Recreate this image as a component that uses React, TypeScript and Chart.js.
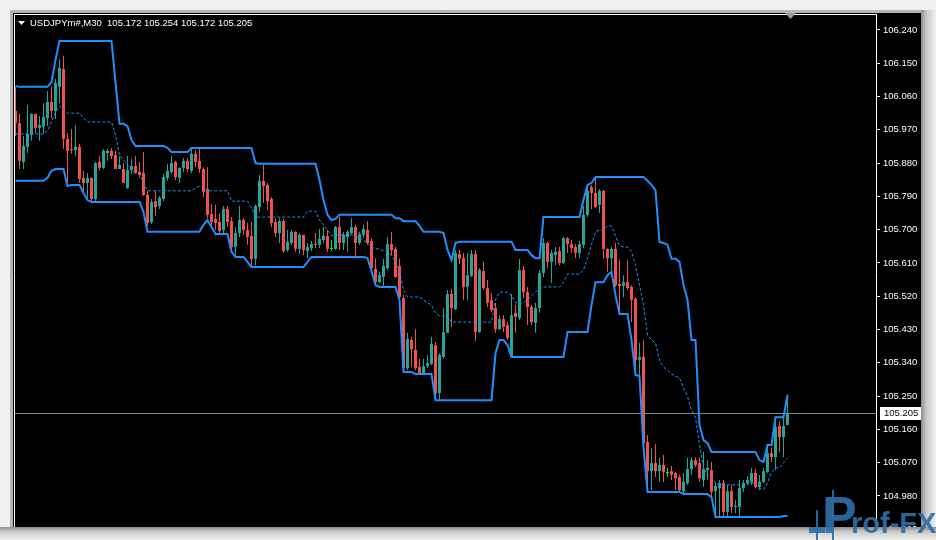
import React, { useEffect, useRef } from "react";
import { Chart, registerables } from "chart.js";

Chart.register(...registerables);

const SYMBOL = "USDJPYm#,M30";
const LAST_PRICE = 105.205;

const OPEN = [
  106.021,105.988,105.883,105.924,105.956,106.013,105.975,105.978,106.002,106.045,
  106.021,106.086,106.134,105.945,105.918,105.915,105.924,105.840,105.826,105.840,
  105.783,105.883,105.867,105.907,105.913,105.902,105.864,105.864,105.813,105.861,
  105.872,105.856,105.853,105.794,105.721,105.777,105.764,105.783,105.840,105.856,
  105.883,105.840,105.867,105.886,105.859,105.905,105.886,105.864,105.810,105.742,
  105.729,105.721,105.699,105.756,105.723,105.653,105.691,105.726,105.699,105.683,
  105.621,105.761,105.832,105.821,105.783,105.721,105.691,105.723,105.645,105.664,
  105.694,105.648,105.686,105.642,105.650,105.661,105.659,105.672,105.683,105.648,
  105.648,105.707,105.664,105.680,105.691,105.707,105.664,105.686,105.699,105.669,
  105.594,105.558,105.572,105.596,105.661,105.648,105.602,105.515,105.326,105.402,
  105.375,105.329,105.307,105.331,105.337,105.388,105.258,105.356,105.421,105.526,
  105.485,105.634,105.623,105.545,105.575,105.634,105.423,105.588,105.542,105.510,
  105.488,105.431,105.458,105.442,105.356,105.475,105.461,105.591,105.531,105.491,
  105.448,105.488,105.583,105.664,105.613,105.631,105.642,105.610,105.677,105.661,
  105.653,105.637,105.659,105.740,105.815,105.799,105.767,105.805,105.648,105.623,
  105.648,105.553,105.548,105.558,105.545,105.513,105.347,105.356,105.126,105.047,
  105.069,105.047,105.064,105.042,105.047,105.042,105.031,104.993,105.015,105.053,
  105.077,105.069,105.023,105.050,105.050,104.993,105.001,105.015,104.937,104.993,
  104.950,104.950,105.001,105.015,105.018,105.042,105.004,105.018,105.045,105.096,
  105.085,105.169,105.139,105.172,
];

const HIGH = [
  106.086,106.013,105.953,106.037,106.015,106.013,106.007,106.042,106.075,106.088,
  106.107,106.161,106.170,105.961,105.972,105.983,105.932,105.859,105.853,105.840,
  105.883,105.899,105.918,105.918,105.921,105.913,105.899,105.880,105.899,105.891,
  105.899,105.883,105.910,105.805,105.783,105.805,105.791,105.851,105.878,105.899,
  105.886,105.869,105.894,105.894,105.918,105.915,105.921,105.869,105.869,105.769,
  105.767,105.745,105.764,105.764,105.734,105.707,105.764,105.731,105.718,105.721,
  105.767,105.848,105.875,105.826,105.788,105.731,105.731,105.729,105.699,105.699,
  105.696,105.691,105.686,105.664,105.669,105.691,105.702,105.707,105.699,105.672,
  105.710,105.734,105.694,105.699,105.731,105.713,105.694,105.713,105.723,105.677,
  105.623,105.586,105.621,105.680,105.694,105.653,105.621,105.523,105.421,105.410,
  105.431,105.350,105.350,105.361,105.410,105.396,105.366,105.488,105.537,105.540,
  105.645,105.645,105.637,105.637,105.645,105.645,105.596,105.613,105.564,105.529,
  105.502,105.469,105.469,105.450,105.526,105.496,105.621,105.602,105.545,105.496,
  105.502,105.591,105.677,105.667,105.645,105.653,105.653,105.680,105.680,105.672,
  105.661,105.669,105.764,105.818,105.821,105.842,105.810,105.807,105.650,105.653,
  105.664,105.618,105.577,105.618,105.550,105.518,105.394,105.402,105.145,105.110,
  105.120,105.083,105.091,105.056,105.061,105.045,105.037,105.042,105.083,105.085,
  105.085,105.085,105.099,105.077,105.072,105.015,105.023,105.023,105.010,105.010,
  104.969,105.023,105.023,105.034,105.056,105.053,105.037,105.056,105.118,105.112,
  105.177,105.183,105.193,105.254,
];

const LOW = [
  105.953,105.864,105.864,105.907,105.940,105.961,105.940,105.961,105.980,106.002,
  105.999,106.042,105.918,105.818,105.905,105.899,105.826,105.799,105.783,105.772,
  105.777,105.859,105.864,105.886,105.891,105.864,105.864,105.826,105.810,105.851,
  105.851,105.840,105.791,105.710,105.715,105.737,105.756,105.777,105.832,105.851,
  105.834,105.826,105.856,105.856,105.853,105.869,105.853,105.788,105.731,105.707,
  105.699,105.686,105.691,105.707,105.637,105.629,105.680,105.686,105.659,105.596,
  105.604,105.748,105.772,105.753,105.707,105.680,105.664,105.637,105.640,105.659,
  105.640,105.634,105.631,105.623,105.642,105.650,105.650,105.664,105.640,105.642,
  105.645,105.645,105.645,105.640,105.686,105.626,105.659,105.677,105.659,105.583,
  105.550,105.556,105.545,105.591,105.631,105.569,105.515,105.320,105.320,105.329,
  105.320,105.307,105.307,105.326,105.334,105.239,105.239,105.350,105.421,105.437,
  105.483,105.607,105.510,105.510,105.572,105.399,105.421,105.537,105.491,105.477,
  105.421,105.429,105.423,105.402,105.356,105.421,105.456,105.515,105.442,105.442,
  105.421,105.475,105.572,105.596,105.556,105.604,105.604,105.607,105.637,105.637,
  105.623,105.623,105.650,105.734,105.756,105.759,105.745,105.621,105.586,105.572,
  105.545,105.475,105.518,105.537,105.450,105.320,105.302,105.112,104.996,104.996,
  105.031,105.018,105.018,105.031,105.023,104.996,104.991,104.988,105.010,105.037,
  105.058,105.018,105.004,105.023,104.977,104.923,104.923,104.923,104.923,104.934,
  104.934,104.923,104.991,105.010,105.010,105.001,104.996,105.015,105.042,105.072,
  105.050,105.099,105.085,105.172,
];

const CLOSE = [
  105.988,105.886,105.926,105.959,106.013,105.975,105.983,106.005,106.045,106.021,
  106.097,106.137,105.945,105.913,105.915,105.924,105.837,105.826,105.840,105.783,
  105.880,105.867,105.913,105.913,105.899,105.864,105.875,105.826,105.861,105.872,
  105.853,105.848,105.794,105.718,105.775,105.761,105.786,105.842,105.859,105.880,
  105.842,105.867,105.886,105.864,105.905,105.883,105.864,105.802,105.740,105.721,
  105.718,105.696,105.756,105.721,105.653,105.691,105.726,105.699,105.680,105.621,
  105.764,105.832,105.818,105.777,105.718,105.691,105.723,105.642,105.667,105.694,
  105.648,105.686,105.645,105.653,105.661,105.659,105.675,105.683,105.648,105.648,
  105.707,105.664,105.686,105.694,105.707,105.664,105.688,105.702,105.664,105.596,
  105.558,105.577,105.602,105.661,105.645,105.572,105.518,105.326,105.404,105.377,
  105.326,105.307,105.331,105.339,105.391,105.258,105.361,105.423,105.526,105.488,
  105.637,105.621,105.545,105.577,105.634,105.423,105.591,105.542,105.502,105.483,
  105.431,105.458,105.437,105.407,105.469,105.464,105.591,105.531,105.491,105.450,
  105.488,105.583,105.664,105.613,105.637,105.640,105.610,105.677,105.661,105.650,
  105.637,105.661,105.740,105.805,105.799,105.761,105.805,105.648,105.623,105.648,
  105.550,105.548,105.558,105.542,105.510,105.347,105.356,105.123,105.047,105.069,
  105.047,105.064,105.045,105.042,105.037,105.028,104.996,105.018,105.053,105.077,
  105.064,105.028,105.053,105.056,104.991,105.007,105.015,104.937,104.993,104.950,
  104.953,105.001,105.015,105.023,105.042,105.004,105.018,105.047,105.096,105.085,
  105.166,105.139,105.169,105.205,
];

const UPPER = [
  106.088,106.086,106.086,106.086,106.086,106.086,106.086,106.086,106.086,106.099,
  106.159,106.210,106.210,106.210,106.210,106.210,106.210,106.210,106.210,106.210,
  106.210,106.210,106.210,106.210,106.210,106.099,105.986,105.986,105.980,105.942,
  105.926,105.926,105.926,105.926,105.926,105.926,105.926,105.926,105.921,105.910,
  105.910,105.910,105.910,105.910,105.921,105.921,105.921,105.921,105.921,105.921,
  105.921,105.921,105.921,105.921,105.921,105.921,105.921,105.921,105.921,105.921,
  105.880,105.878,105.878,105.878,105.878,105.878,105.878,105.878,105.878,105.878,
  105.878,105.878,105.878,105.878,105.878,105.878,105.834,105.780,105.740,105.726,
  105.729,105.740,105.740,105.740,105.740,105.740,105.740,105.740,105.740,105.740,
  105.740,105.740,105.740,105.740,105.740,105.731,105.731,105.723,105.723,105.723,
  105.723,105.710,105.694,105.694,105.694,105.694,105.694,105.691,105.645,105.618,
  105.664,105.667,105.667,105.667,105.667,105.667,105.667,105.667,105.667,105.667,
  105.667,105.667,105.667,105.667,105.667,105.645,105.645,105.645,105.645,105.631,
  105.623,105.623,105.734,105.734,105.734,105.734,105.734,105.734,105.734,105.734,
  105.734,105.734,105.780,105.821,105.826,105.842,105.842,105.842,105.842,105.842,
  105.842,105.842,105.842,105.842,105.842,105.842,105.842,105.842,105.832,105.821,
  105.807,105.667,105.664,105.659,105.621,105.621,105.613,105.550,105.510,105.402,
  105.402,105.172,105.131,105.123,105.099,105.099,105.099,105.099,105.099,105.099,
  105.099,105.099,105.099,105.099,105.099,105.099,105.077,105.072,105.118,105.118,
  105.193,105.193,105.193,105.253,
];

const LOWER = [
  105.832,105.832,105.832,105.832,105.832,105.832,105.832,105.832,105.840,105.859,
  105.864,105.864,105.864,105.818,105.821,105.821,105.821,105.799,105.780,105.775,
  105.775,105.775,105.775,105.775,105.775,105.775,105.775,105.775,105.775,105.775,
  105.775,105.775,105.748,105.694,105.694,105.694,105.694,105.694,105.694,105.694,
  105.694,105.694,105.694,105.694,105.694,105.694,105.694,105.713,105.726,105.707,
  105.688,105.688,105.688,105.688,105.640,105.626,105.626,105.626,105.613,105.599,
  105.599,105.599,105.599,105.599,105.599,105.599,105.599,105.599,105.599,105.599,
  105.599,105.599,105.599,105.613,105.626,105.626,105.626,105.626,105.626,105.626,
  105.626,105.626,105.626,105.626,105.626,105.626,105.626,105.626,105.623,105.588,
  105.550,105.545,105.545,105.545,105.545,105.545,105.510,105.315,105.315,105.315,
  105.310,105.310,105.310,105.310,105.310,105.239,105.239,105.239,105.239,105.239,
  105.239,105.239,105.239,105.239,105.239,105.239,105.239,105.239,105.239,105.239,
  105.366,105.402,105.402,105.388,105.356,105.356,105.356,105.356,105.356,105.356,
  105.356,105.356,105.356,105.356,105.356,105.356,105.356,105.356,105.423,105.423,
  105.423,105.423,105.423,105.423,105.496,105.558,105.558,105.558,105.577,105.586,
  105.523,105.472,105.472,105.472,105.402,105.307,105.304,105.112,104.991,104.991,
  104.991,104.991,104.991,104.991,104.991,104.991,104.991,104.985,104.985,104.985,
  104.985,104.985,104.985,104.985,104.977,104.923,104.923,104.923,104.923,104.923,
  104.923,104.923,104.923,104.923,104.923,104.923,104.923,104.923,104.923,104.923,
  104.923,104.923,104.926,104.926,
];

const MIDDLE = [
  105.959,105.959,105.959,105.959,105.959,105.959,105.959,105.959,105.967,105.991,
  106.018,106.034,106.024,106.015,106.015,106.015,106.015,106.002,105.991,105.991,
  105.991,105.991,105.991,105.991,105.991,105.956,105.902,105.888,105.875,105.861,
  105.853,105.848,105.829,105.805,105.805,105.805,105.805,105.805,105.805,105.805,
  105.805,105.805,105.805,105.805,105.805,105.813,105.818,105.818,105.805,105.805,
  105.805,105.805,105.805,105.805,105.777,105.777,105.777,105.777,105.777,105.759,
  105.734,105.734,105.734,105.734,105.734,105.734,105.734,105.734,105.734,105.734,
  105.734,105.734,105.734,105.750,105.750,105.750,105.726,105.713,105.699,105.683,
  105.686,105.686,105.686,105.686,105.686,105.683,105.677,105.672,105.664,105.653,
  105.648,105.648,105.642,105.640,105.631,105.613,105.591,105.537,105.518,105.518,
  105.518,105.518,105.510,105.502,105.496,105.475,105.467,105.467,105.467,105.450,
  105.450,105.450,105.450,105.450,105.450,105.450,105.450,105.450,105.450,105.450,
  105.510,105.531,105.531,105.531,105.523,105.502,105.502,105.502,105.510,105.521,
  105.531,105.540,105.545,105.545,105.545,105.545,105.545,105.558,105.580,105.580,
  105.580,105.580,105.591,105.623,105.659,105.694,105.699,105.699,105.710,105.710,
  105.683,105.656,105.653,105.653,105.640,105.604,105.550,105.496,105.415,105.402,
  105.394,105.347,105.329,105.320,105.310,105.304,105.299,105.272,105.250,105.212,
  105.193,105.118,105.056,105.037,105.028,105.015,105.010,105.010,105.010,105.010,
  105.010,105.010,105.010,105.010,105.018,105.010,105.001,104.996,105.015,105.045,
  105.056,105.056,105.069,105.083,
];

const Y_TICKS = [
  104.89, 104.98, 105.07, 105.16, 105.25, 105.34, 105.43, 105.52,
  105.61, 105.7, 105.79, 105.88, 105.97, 106.06, 106.15, 106.24,
];

const Y_MIN = 104.888;
const Y_MAX = 106.283;
const X_MIN = -0.375;
const X_MAX = 215.125;

const UP = "#26a69a";
const DOWN = "#ef5350";
const DOJI = "#00ff00";
const BAND = "#1e90ff";
const FONT = "'Liberation Sans', Arial, sans-serif";

export default function App() {
  const ref = useRef<HTMLCanvasElement | null>(null);

  useEffect(() => {
    document.body.style.margin = "0";
    const canvas = ref.current;
    if (!canvas) return;

    const colors = OPEN.map((o, i) =>
      CLOSE[i] > o ? UP : CLOSE[i] < o ? DOWN : DOJI
    );
    const wicks = OPEN.map((_, i) => ({ x: i, y: [LOW[i], HIGH[i]] }));
    const bodies = OPEN.map((o, i) => ({ x: i, y: [o, CLOSE[i]] }));
    const pts = (arr: number[]) => arr.map((v, i) => ({ x: i, y: v }));

    const frame = {
      id: "mtframe",
      beforeDraw(chart: any) {
        const { ctx, width, height } = chart;
        ctx.save();
        ctx.fillStyle = "#f0f0f0";
        ctx.fillRect(0, 0, width, height);
        ctx.fillStyle = "#b4b4b4";
        ctx.fillRect(10, 10, 914, 520);
        ctx.fillStyle = "#000000";
        ctx.fillRect(13, 13, 921 - 13, 527 - 13);
        ctx.restore();
      },
      beforeDatasetsDraw(chart: any) {
        const { ctx, chartArea, scales } = chart;
        const py = Math.round(scales.y.getPixelForValue(LAST_PRICE)) + 0.5;
        ctx.save();
        ctx.strokeStyle = "#778899";
        ctx.lineWidth = 1;
        ctx.beginPath();
        ctx.moveTo(chartArea.left, py);
        ctx.lineTo(chartArea.right, py);
        ctx.stroke();
        ctx.restore();
      },
      afterDraw(chart: any) {
        const { ctx, chartArea, scales, width, height } = chart;
        ctx.save();
        // plot border
        ctx.strokeStyle = "#ffffff";
        ctx.lineWidth = 1;
        ctx.beginPath();
        ctx.moveTo(chartArea.left + 0.5, chartArea.bottom);
        ctx.lineTo(chartArea.left + 0.5, chartArea.top + 0.5);
        ctx.lineTo(chartArea.right, chartArea.top + 0.5);
        ctx.stroke();

        // current price label
        const py = Math.round(scales.y.getPixelForValue(LAST_PRICE));
        ctx.fillStyle = "#ffffff";
        ctx.fillRect(880, py - 6, 41, 13);
        ctx.fillStyle = "#000000";
        ctx.font = `9.5px ${FONT}`;
        ctx.textBaseline = "middle";
        ctx.textAlign = "left";
        ctx.fillText(LAST_PRICE.toFixed(3), 884, py + 0.5);

        // header
        ctx.fillStyle = "#ffffff";
        ctx.beginPath();
        ctx.moveTo(18, 21);
        ctx.lineTo(25, 21);
        ctx.lineTo(21.5, 25);
        ctx.closePath();
        ctx.fill();
        ctx.textBaseline = "alphabetic";
        ctx.font = `9.5px ${FONT}`;
        const last = OPEN.length - 1;
        const head = `${SYMBOL}  ${OPEN[last].toFixed(3)} ${HIGH[last].toFixed(3)} ${LOW[last].toFixed(3)} ${CLOSE[last].toFixed(3)}`;
        ctx.fillText(head, 30, 26);

        // shift marker
        ctx.fillStyle = "#9a9a9a";
        ctx.beginPath();
        ctx.moveTo(785, 13);
        ctx.lineTo(796, 13);
        ctx.lineTo(790.5, 19);
        ctx.closePath();
        ctx.fill();

        // window edges
        const gb = ctx.createLinearGradient(0, 527, 0, height);
        gb.addColorStop(0, "#8c8c8c");
        gb.addColorStop(0.35, "#c8c8c8");
        gb.addColorStop(1, "#f2f2f2");
        ctx.fillStyle = gb;
        ctx.fillRect(0, 527, width, height - 527);
        const gr = ctx.createLinearGradient(921, 0, width, 0);
        gr.addColorStop(0, "#8c8c8c");
        gr.addColorStop(0.35, "#c8c8c8");
        gr.addColorStop(1, "#f2f2f2");
        ctx.fillStyle = gr;
        ctx.fillRect(921, 10, width - 921, 517);

        // watermark logo
        ctx.fillStyle = "rgba(44,110,168,0.92)";
        ctx.fillRect(816, 510, 2, 30);
        ctx.fillRect(832, 490, 2, 50);
        ctx.fillRect(809, 527, 16, 6);
        ctx.font = `bold 52px ${FONT}`;
        ctx.fillText("P", 822, 533);
        ctx.font = `bold 29px ${FONT}`;
        ctx.fillText("rof-FX", 851, 533);
        ctx.restore();
      },
    };

    const chart = new Chart(canvas, {
      type: "bar",
      data: {
        datasets: [
          {
            type: "line",
            data: pts(UPPER),
            borderColor: BAND,
            borderWidth: 2,
            pointRadius: 0,
            fill: false,
            tension: 0,
            order: 0,
          } as any,
          {
            type: "line",
            data: pts(LOWER),
            borderColor: BAND,
            borderWidth: 2,
            pointRadius: 0,
            fill: false,
            tension: 0,
            order: 0,
          } as any,
          {
            type: "line",
            data: pts(MIDDLE),
            borderColor: BAND,
            borderWidth: 1,
            borderDash: [3, 2],
            pointRadius: 0,
            fill: false,
            tension: 0,
            order: 0,
          } as any,
          {
            type: "bar",
            data: wicks,
            backgroundColor: colors,
            barThickness: 1,
            grouped: false,
            borderWidth: 0,
            inflateAmount: 0,
            order: 2,
          } as any,
          {
            type: "bar",
            data: bodies,
            backgroundColor: colors,
            barThickness: 3,
            minBarLength: 1,
            grouped: false,
            borderWidth: 0,
            inflateAmount: 0,
            order: 1,
          } as any,
        ],
      },
      options: {
        responsive: false,
        maintainAspectRatio: false,
        animation: false,
        layout: { padding: { left: 14, top: 14, right: 0, bottom: 10 } },
        plugins: {
          legend: { display: false },
          tooltip: { enabled: false },
        },
        scales: {
          x: {
            type: "linear",
            min: X_MIN,
            max: X_MAX,
            display: false,
            offset: false,
          },
          y: {
            type: "linear",
            position: "right",
            min: Y_MIN,
            max: Y_MAX,
            afterBuildTicks: (s: any) => {
              s.ticks = Y_TICKS.map((v) => ({ value: v }));
            },
            afterFit: (s: any) => {
              s.width = 60;
            },
            ticks: {
              color: "#ffffff",
              font: { family: FONT, size: 9.5 },
              padding: 3,
              autoSkip: false,
              callback: (v: any) => Number(v).toFixed(3),
            },
            grid: {
              display: true,
              drawOnChartArea: false,
              drawTicks: true,
              tickLength: 4,
              color: "#ffffff",
              lineWidth: 1,
            },
            border: { display: true, color: "#ffffff", width: 1 },
          },
        },
      } as any,
      plugins: [frame],
    });

    return () => chart.destroy();
  }, []);

  return (
    <canvas
      ref={ref}
      width={936}
      height={540}
      style={{ display: "block", width: 936, height: 540 }}
    />
  );
}
